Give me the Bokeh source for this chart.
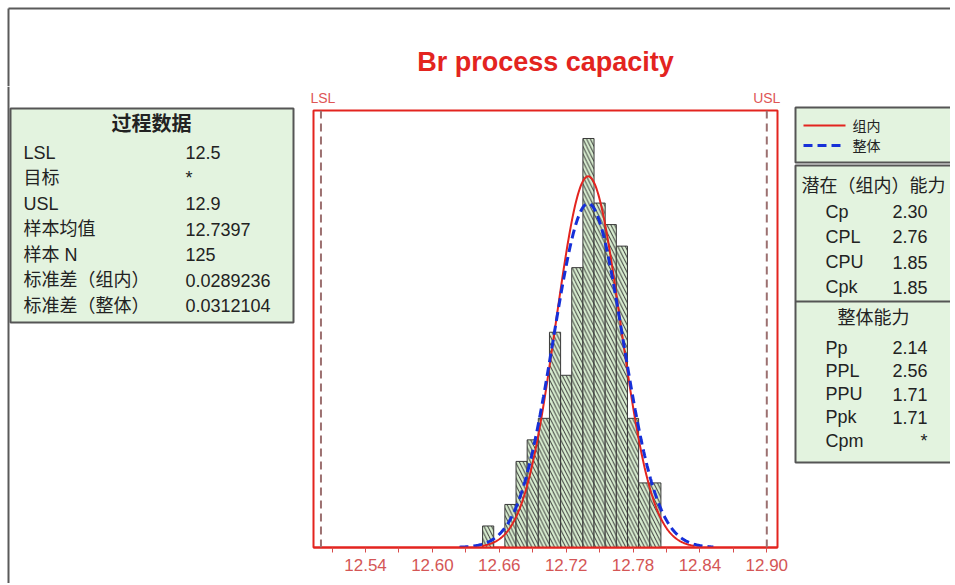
import numpy as np
from bokeh.plotting import figure
from bokeh.layouts import row, column
from bokeh.models import Range1d, FixedTicker, Span, LinearAxis, NumeralTickFormatter
from bokeh.core.properties import value
from bokeh.embed import file_html
from bokeh.resources import INLINE

# ---------------- data ----------------
title_text = "Br process capacity"
lsl = 12.5
usl = 12.9
spec_names = ["LSL", "USL"]
mean = 12.7397
n_sample = 125
sd_within = 0.0289236
sd_overall = 0.0312104

bin_width = 0.01
bin_centers = [12.65, 12.66, 12.67, 12.68, 12.69, 12.70, 12.71, 12.72,
               12.73, 12.74, 12.75, 12.76, 12.77, 12.78, 12.79, 12.80]
bin_counts = [1, 0, 2, 4, 5, 6, 10, 8, 13, 19, 16, 15, 14, 6, 3, 3]

tick_values = [12.54, 12.60, 12.66, 12.72, 12.78, 12.84, 12.90]
minor_tick_values = [12.51, 12.57, 12.63, 12.69, 12.75, 12.81, 12.87]

left_title = "过程数据"
left_labels = ["LSL", "目标", "USL", "样本均值", "样本 N", "标准差（组内）", "标准差（整体）"]
left_values = ["12.5", "*", "12.9", "12.7397", "125", "0.0289236", "0.0312104"]

legend_labels = ["组内", "整体"]
within_title = "潜在（组内）能力"
within_labels = ["Cp", "CPL", "CPU", "Cpk"]
within_values = ["2.30", "2.76", "1.85", "1.85"]
overall_title = "整体能力"
overall_labels = ["Pp", "PPL", "PPU", "Ppk", "Cpm"]
overall_values = ["2.14", "2.56", "1.71", "1.71", "*"]

# ---------------- styles ----------------
FONT = "Liberation Sans, Noto Sans CJK SC"
RED = "#e3241f"
BLUE = "#1630d8"
PANEL_FILL = "#e3f3df"
PANEL_LINE = "#555555"
TEXT = "#222222"
FRAME_GRAY = "#5a5a5a"

TOP_H = 86
ROW_H = 497
LEFT_W = 310
HIST_W = 480
RIGHT_W = 160


def blank(width, height, xr, yr):
    f = figure(width=width, height=height, x_range=Range1d(*xr), y_range=Range1d(*yr),
               output_backend="svg", toolbar_location=None, min_border=0, title=None,
               x_axis_location=None, y_axis_location=None)
    f.frame_align = False
    f.xgrid.visible = False
    f.ygrid.visible = False
    f.outline_line_color = None
    f.background_fill_color = "white"
    f.border_fill_color = "white"
    return f


def texts(f, xs, ys, labels, size, align="left", style="normal", color=TEXT):
    f.text(x=xs, y=ys, text=labels, text_font=value(FONT),
           text_font_size=value(size), text_align=align, text_baseline="middle",
           text_font_style=style, text_color=color)


# ---------------- top strip (title) ----------------
top = blank(LEFT_W + HIST_W + RIGHT_W, TOP_H, (0, 950), (86, 0))
top.segment(x0=[8, 8], y0=[8, 8], x1=[950, 8], y1=[8, 86], line_color=FRAME_GRAY, line_width=2)
texts(top, [545], [61], [title_text], "27px", align="center", style="bold", color=RED)

# ---------------- left panel ----------------
left = blank(LEFT_W, ROW_H, (0, 310), (583, 86))
left.segment(x0=[8], y0=[86], x1=[8], y1=[583], line_color=FRAME_GRAY, line_width=2)
left.quad(left=[10], right=[293], top=[108], bottom=[322], fill_color=PANEL_FILL,
          line_color=PANEL_LINE, line_width=2)
texts(left, [151], [123], [left_title], "20px", align="center", style="bold")
row_y = [152 + 25.5 * i for i in range(len(left_labels))]
texts(left, [23] * len(left_labels), row_y, left_labels, "18px")
texts(left, [185] * len(left_values), row_y, left_values, "18px")

# ---------------- histogram ----------------
p = figure(width=HIST_W, height=ROW_H, x_range=Range1d(12.4933, 12.9096),
           y_range=Range1d(0, 20.3), output_backend="svg", toolbar_location=None,
           title=None, y_axis_location=None, min_border_left=3, min_border_right=13,
           min_border_top=24, min_border_bottom=36)
p.frame_align = False
p.xgrid.visible = False
p.ygrid.visible = False
p.outline_line_color = RED
p.outline_line_width = 2
p.background_fill_color = "white"
p.border_fill_color = "white"

ax = p.xaxis[0]
ax.ticker = FixedTicker(ticks=tick_values, minor_ticks=minor_tick_values)
ax.formatter = NumeralTickFormatter(format="0.00")
ax.axis_line_color = RED
ax.axis_line_width = 2
ax.major_tick_line_color = "#d84a4a"
ax.minor_tick_line_color = "#d84a4a"
ax.major_tick_in = 0
ax.major_tick_out = 5
ax.minor_tick_in = 0
ax.minor_tick_out = 5
ax.major_label_text_color = "#d45656"
ax.major_label_text_font = "Liberation Sans"
ax.major_label_text_font_size = "17px"
ax.major_label_standoff = 6

spec_axis = LinearAxis(ticker=FixedTicker(ticks=[lsl, usl], minor_ticks=[]),
                       major_label_overrides={lsl: spec_names[0], usl: spec_names[1]},
                       axis_line_color=None, major_tick_line_color=None,
                       minor_tick_line_color=None, major_tick_out=0, major_tick_in=0,
                       major_label_standoff=5, major_label_text_font="Liberation Sans",
                       major_label_text_font_size="14px", major_label_text_color="#de5656")
p.add_layout(spec_axis, "above")

p.vbar(x=bin_centers, width=bin_width, top=bin_counts, bottom=0,
       fill_color="#d8eed0", line_color="#3a3a3a", line_width=1,
       hatch_pattern="\\", hatch_color="#3a3a3a", hatch_scale=7.5, hatch_weight=1.0)

x_w = np.linspace(mean - 3.3 * sd_within, mean + 3.3 * sd_within, 300)
y_w = n_sample * bin_width * np.exp(-0.5 * ((x_w - mean) / sd_within) ** 2) / (sd_within * np.sqrt(2 * np.pi))
x_o = np.linspace(mean - 3.7 * sd_overall, mean + 3.6 * sd_overall, 300)
y_o = n_sample * bin_width * np.exp(-0.5 * ((x_o - mean) / sd_overall) ** 2) / (sd_overall * np.sqrt(2 * np.pi))
p.line(x_w, y_w, line_color=RED, line_width=2)
p.line(x_o, y_o, line_color=BLUE, line_width=3, line_dash="9 5")

for loc in [lsl, usl]:
    p.add_layout(Span(location=loc, dimension="height", line_color="#9c7070",
                      line_dash="8 5", line_width=2))

# ---------------- right panel ----------------
right = blank(RIGHT_W, ROW_H, (790, 950), (583, 86))
right.quad(left=[795, 795], right=[965, 965], top=[107, 165], bottom=[162, 462],
           fill_color=PANEL_FILL, line_color=PANEL_LINE, line_width=2)
right.segment(x0=[795], y0=[301], x1=[965], y1=[301], line_color=PANEL_LINE, line_width=2)
right.line([803, 845], [125, 125], line_color=RED, line_width=2)
right.line([803, 845], [145, 145], line_color=BLUE, line_width=3, line_dash="9 5")
texts(right, [852, 852], [125, 145], legend_labels, "14px")

texts(right, [873], [185], [within_title], "18px", align="center")
wy = [211 + 25.3 * i for i in range(len(within_labels))]
texts(right, [825] * len(within_labels), wy, within_labels, "18px")
texts(right, [927] * len(within_values), wy, within_values, "18px", align="right")

texts(right, [873], [317], [overall_title], "18px", align="center")
oy = [347 + 23.3 * i for i in range(len(overall_labels))]
texts(right, [825] * len(overall_labels), oy, overall_labels, "18px")
texts(right, [927] * len(overall_values), oy, overall_values, "18px", align="right")

layout = column(top, row(left, p, right))
open("out.html", "w").write(file_html(layout, INLINE))
